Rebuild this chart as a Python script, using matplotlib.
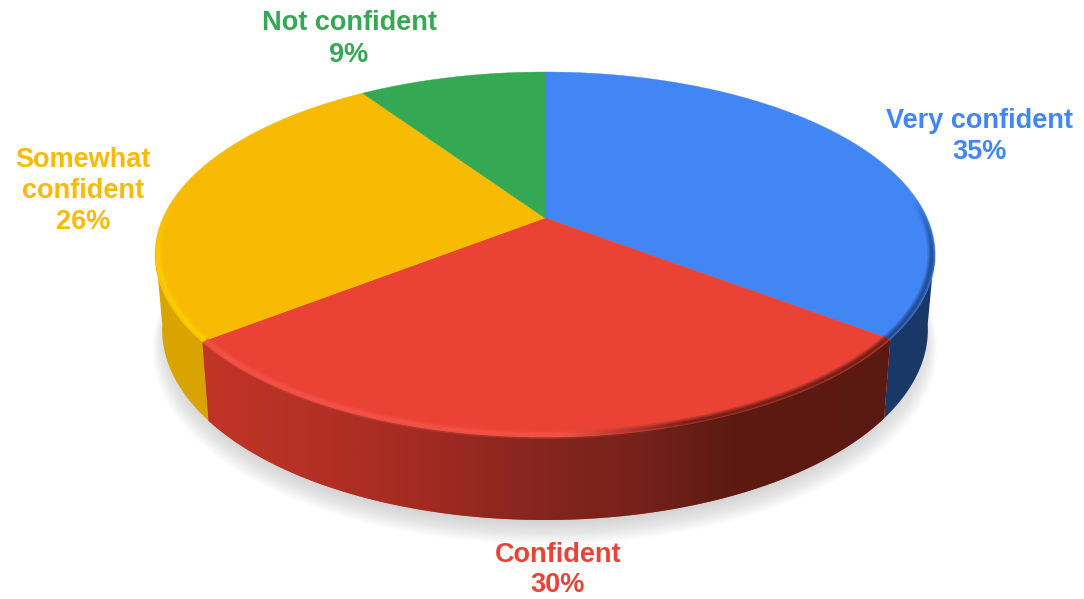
import matplotlib
matplotlib.use('Agg')
import matplotlib.pyplot as plt
from matplotlib.collections import LineCollection
from matplotlib.colors import to_rgb, LinearSegmentedColormap
from matplotlib.patches import Polygon
import numpy as np

# wedge sizes as measured on the picture, labels as printed
shares = [35.4, 29.0, 26.2, 9.4]
labels = ['Very confident\n35%', 'Confident\n30%', 'Somewhat\nconfident\n26%', 'Not confident\n9%']
top_colors = ['#4285f4', '#ea4335', '#f8bb03', '#34a853']
wall_colors = ['#1a3867', '#ea4335', '#d9a400']
label_x = [980, 558, 83, 349]
label_y = [136.5, 570, 191, 39]

plt.rcParams['font.family'] = ['Liberation Sans', 'DejaVu Sans']

cx, cy = 545, 218
R, B, k = 382, 175.2, 0.2


def ring(theta, f=1.0):
    # perspective view of the top circle, theta clockwise from the far point
    u, v = f*np.sin(theta), f*np.cos(theta)
    s = 1/(1 + k*v)
    return cx + R*u*s, cy - B*v*s


def lower(theta):
    x, y = ring(theta)
    return cx + (x - cx)*0.982, y + 73 - 10*np.cos(theta)


fig = plt.figure(figsize=(10.84, 5.99), dpi=100)
ax = fig.add_axes([0, 0, 1, 1])
ax.set_xlim(0, 1084)
ax.set_ylim(599, 0)
ax.axis('off')

edges = np.radians(np.concatenate([[0], np.cumsum(shares)/np.sum(shares)*360]))

# soft shadow below the disc
th = np.linspace(0, 2*np.pi, 400)
sx, sy = lower(th)
for g, dy in zip(np.linspace(0.98, 1.025, 18), np.linspace(6, 18, 18)):
    ax.fill(cx + (sx - cx)*g, 262 + dy + (sy - 262)*g, color='#808080', alpha=0.018,
            lw=0, zorder=1)

# side wall
vis_start, vis_end = np.radians(100), np.radians(260)
for i in range(3):
    a = max(edges[i], vis_start)
    b = min(edges[i+1], vis_end)
    t = np.linspace(a, b, 200)
    x0, y0 = ring(t)
    x1, y1 = lower(t)
    poly = Polygon(np.column_stack([np.r_[x0, x1[::-1]], np.r_[y0, y1[::-1]]]), closed=True,
                   facecolor=wall_colors[i], edgecolor='none', zorder=2)
    ax.add_patch(poly)
    if i == 1:
        # red wall gets darker to the right
        grad = LinearSegmentedColormap.from_list('wall', [(0, '#c23527'), (0.14, '#b53025'),
                                                          (0.29, '#a32b22'), (0.43, '#88261f'),
                                                          (0.58, '#76211a'), (0.7, '#5c1a13'),
                                                          (1, '#5a1912')])
        im = ax.imshow(np.linspace(0, 1, 760).reshape(1, -1), cmap=grad, aspect='auto',
                       extent=(200, 960, 530, 300), zorder=2.1, interpolation='bilinear')
        im.set_clip_path(poly)
ax.set_xlim(0, 1084)
ax.set_ylim(599, 0)

# top face
for i in range(4):
    t = np.linspace(edges[i], edges[i+1], 200)
    x, y = ring(t)
    ax.fill(np.r_[cx, x], np.r_[cy, y], color=top_colors[i], lw=0.3, zorder=3)

# bevel along the front rim, fades out towards the widest points
for i in range(3):
    a = max(edges[i], np.radians(84))
    b = min(edges[i+1], np.radians(276))
    t = np.linspace(a, b, 240)
    x, y = ring(t, 0.992)
    pts = np.column_stack([x, y])
    segs = np.stack([pts[:-1], pts[1:]], axis=1)
    mid = (t[:-1] + t[1:])/2
    xm = (x[:-1] + x[1:])/2
    fade = np.clip(np.minimum(mid - np.radians(84), np.radians(276) - mid)/np.radians(20), 0, 1)
    if i == 0:
        base = np.tile(to_rgb('#1d3f78'), (len(mid), 1))
    elif i == 2:
        base = np.tile(to_rgb('#ffd400'), (len(mid), 1))
    else:
        f = np.clip((xm - 560)/130, 0, 1)[:, None]
        base = np.array(to_rgb('#f6564b'))*(1-f) + np.array(to_rgb('#5a1912'))*f
    for w, al in zip([6, 4, 2], [0.25, 0.35, 0.6]):
        cols = np.column_stack([base, fade*al])
        ax.add_collection(LineCollection(segs, colors=cols, linewidths=w, capstyle='butt', zorder=4))

# labels
for i in range(4):
    ax.text(label_x[i], label_y[i], labels[i], color=top_colors[i], fontsize=19.5,
            fontweight='bold', ha='center', va='center', linespacing=1.25, zorder=5)

plt.savefig('out.png', dpi=100)
